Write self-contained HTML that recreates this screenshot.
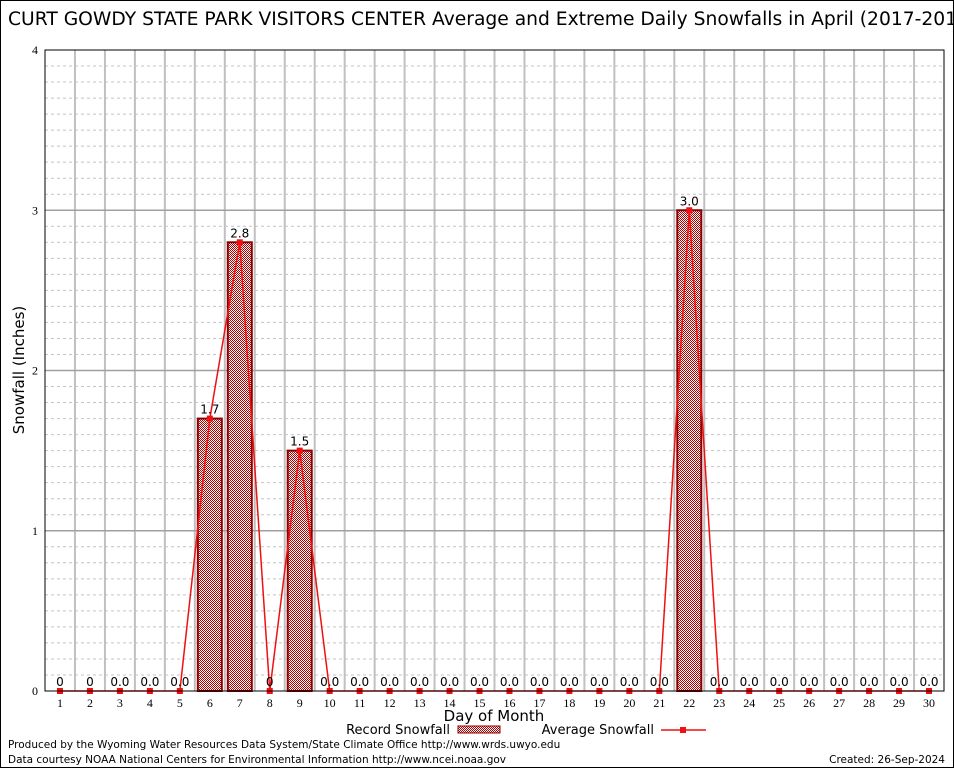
<!DOCTYPE html>
<html><head><meta charset="utf-8"><style>
body{margin:0;background:#fff;}
svg{display:block;font-family:"DejaVu Sans","Liberation Sans",sans-serif;}
</style></head><body>
<svg id="chart" width="954" height="768" viewBox="0 0 954 768">
<defs>
<pattern id="chk" width="2" height="2" patternUnits="userSpaceOnUse">
<rect width="2" height="2" fill="#fff"/><rect width="1" height="1" fill="#b00000"/><rect x="1" y="1" width="1" height="1" fill="#b00000"/>
</pattern>
</defs>
<rect x="0.5" y="0.5" width="953" height="767" fill="#fff" stroke="#000"/>
<text x="8" y="25" font-size="18.7">CURT GOWDY STATE PARK VISITORS CENTER Average and Extreme Daily Snowfalls in April (2017-2019)</text>
<g id="grid"></g>
<g id="bars"></g>
<g id="line"></g>
<g id="labels"></g>
<rect x="45" y="50" width="899" height="641" fill="none" stroke="#000"/>
<text transform="translate(24,370) rotate(-90)" text-anchor="middle" font-size="15">Snowfall (Inches)</text>
<text x="494" y="721" text-anchor="middle" font-size="15">Day of Month</text>
<g>
<text x="450" y="734" text-anchor="end" font-size="13">Record Snowfall</text>
<rect x="458" y="726" width="42" height="7" fill="url(#chk)" stroke="#8b0000"/>
</g>
<g>
<text x="654" y="734" text-anchor="end" font-size="13">Average Snowfall</text>
<line x1="661" y1="730" x2="706" y2="730" stroke="#f01010" stroke-width="1.5"/>
<rect x="680" y="727" width="6" height="6" fill="#f01010"/>
</g>
<text x="8" y="748" font-size="10.5">Produced by the Wyoming Water Resources Data System/State Climate Office http://www.wrds.uwyo.edu</text>
<text x="8" y="763" font-size="10.5">Data courtesy NOAA National Centers for Environmental Information http://www.ncei.noaa.gov</text>
<text x="945" y="763" text-anchor="end" font-size="10.5">Created:  26-Sep-2024</text>
</svg>
<script>
const days=[1,2,3,4,5,6,7,8,9,10,11,12,13,14,15,16,17,18,19,20,21,22,23,24,25,26,27,28,29,30];
const recordSnow=[0,0,0,0,0,1.7,2.8,0,1.5,0,0,0,0,0,0,0,0,0,0,0,0,3.0,0,0,0,0,0,0,0,0];
const avgSnow=[0,0,0,0,0,1.7,2.8,0,1.5,0,0,0,0,0,0,0,0,0,0,0,0,3.0,0,0,0,0,0,0,0,0];
const recordLabels=["0","0","0.0","0.0","0.0","1.7","2.8","0","1.5","0.0","0.0","0.0","0.0","0.0","0.0","0.0","0.0","0.0","0.0","0.0","0.0","3.0","0.0","0.0","0.0","0.0","0.0","0.0","0.0","0.0"];
const yTicks=[0,1,2,3,4];
const NS="http://www.w3.org/2000/svg";
const X0=45,X1=944,Y0=691,Y1=50,YMAX=4;
const step=(X1-X0)/days.length;
const xs=d=>X0+(d-0.5)*step;
const ys=v=>Y0-(v/YMAX)*(Y0-Y1);
function mk(tag,attrs,parent){const e=document.createElementNS(NS,tag);for(const k in attrs)e.setAttribute(k,attrs[k]);parent.appendChild(e);return e;}
const grid=document.getElementById('grid');
for(let v=0.1;v<YMAX-0.001;v+=0.1){
 if(Math.abs(v-Math.round(v))<0.01)continue;
 const l=mk('line',{x1:X0,x2:X1,y1:ys(v),y2:ys(v),stroke:'#c4c4c4','stroke-dasharray':'3,3'},grid);
 
 
}
for(let i=1;i<days.length;i++){
 const x=X0+i*step;
 const l=mk('line',{x1:x,x2:x,y1:Y1,y2:Y0,stroke:'#c0c0c0','stroke-width':2},grid);
 
 
}
yTicks.forEach(t=>{
 if(t>0&&t<YMAX){
  const l=mk('line',{x1:X0,x2:X1,y1:ys(t),y2:ys(t),stroke:'#a0a0a0','stroke-width':1.5},grid);
  
  
 }
 const tx=mk('text',{x:38,y:ys(t)+4,'text-anchor':'end','font-size':12,'font-family':'Liberation Serif,serif'},grid);
 tx.textContent=t;
 
 
});
days.forEach(d=>{
 const tx=mk('text',{x:xs(d),y:707,'text-anchor':'middle','font-size':12,'font-family':'Liberation Serif,serif'},grid);
 tx.textContent=d;
 
 
});
const bars=document.getElementById('bars');
recordSnow.forEach((v,i)=>{
 if(v<=0)return;
 const r=mk('rect',{x:xs(days[i])-12,y:ys(v),width:24,height:Y0-ys(v),fill:'url(#chk)',stroke:'#8b0000','stroke-width':2},bars);
 
 
});
const lg=document.getElementById('line');
const pl=mk('polyline',{points:avgSnow.map((v,i)=>xs(days[i])+','+ys(v)).join(' '),fill:'none',stroke:'#f01010','stroke-width':1.5},lg);


avgSnow.forEach((v,i)=>{
 const m=mk('rect',{x:xs(days[i])-3,y:ys(v)-3,width:6,height:6,fill:'#f01010'},lg);
 
 
});
const lb=document.getElementById('labels');
recordLabels.forEach((s,i)=>{
 const t=mk('text',{x:xs(days[i]),y:ys(recordSnow[i])-5,'text-anchor':'middle','font-size':12},lb);
 t.textContent=s;
 
 
});
</script>
</body></html>
